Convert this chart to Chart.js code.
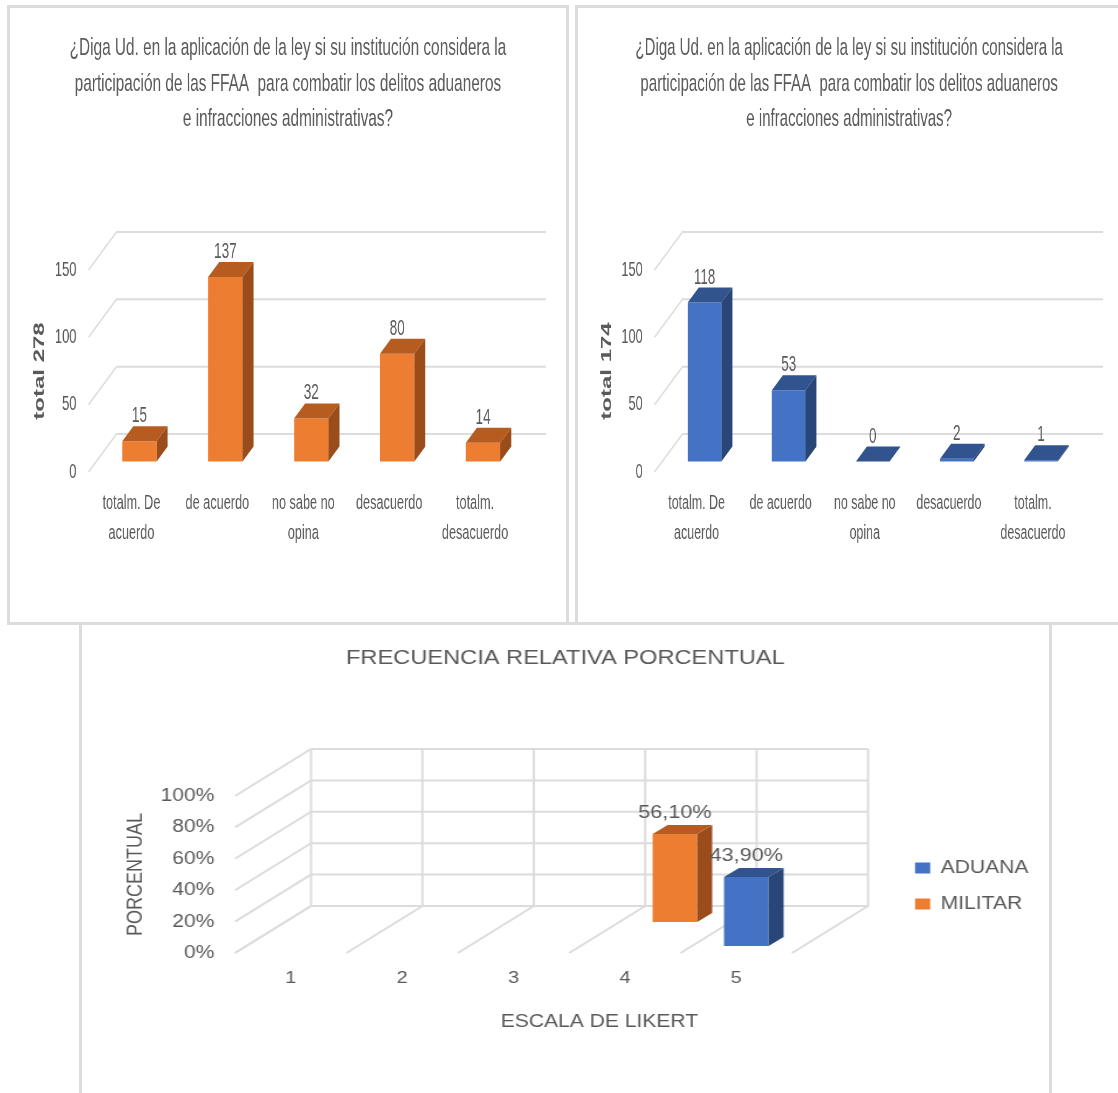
<!DOCTYPE html>
<html>
<head>
<meta charset="utf-8">
<script src="https://cdn.jsdelivr.net/npm/chart.js@4"></script>
<style>
html, body { margin: 0; padding: 0; background: #fff; }
body { position: relative; width: 1118px; height: 1093px; overflow: hidden; }
.panel { position: absolute; box-sizing: border-box; border: 3px solid #dcdcdc; }
canvas { position: absolute; transform-origin: 0 0; }
</style>
</head>
<body>
<div class="panel" style="left:7px;top:5px;width:562px;height:620px"></div>
<div class="panel" style="left:575px;top:5px;width:546px;height:620px"></div>
<div class="panel" style="left:79px;top:622px;width:973px;height:520px"></div>
<canvas id="militar"></canvas>
<canvas id="aduana"></canvas>
<canvas id="frecuencia"></canvas>
<script>
const categories = [['totalm. De', 'acuerdo'], 'de acuerdo', ['no sabe no', 'opina'], 'desacuerdo', ['totalm.', 'desacuerdo']];
const militarValues = [15, 137, 32, 80, 14];
const aduanaValues = [118, 53, 0, 2, 1];
const likert = ['1', '2', '3', '4', '5'];
const likertAduana = [null, null, null, null, 43.9];
const likertMilitar = [null, null, null, 56.1, null];
const surveyTitle = ['¿Diga Ud. en la aplicación de la ley si su institución considera la',
    'participación de las FFAA  para combatir los delitos aduaneros',
    'e infracciones administrativas?'];

const orange = { front: '#ed7d31', top: '#b65c20', side: '#9a4d1a' };
const blue = { front: '#4472c4', top: '#31548f', side: '#2a4578' };
const textColor = '#595959';
const gridColor = '#dcdcdc';
const fontName = '"Liberation Sans", Arial, sans-serif';

// the 3D look: walls and bar faces are worked out from the chart's own scales
const depth3d = {
    id: 'depth3d',
    beforeDatasetsDraw(chart, args, o) {
        const ctx = chart.ctx, a = chart.chartArea, y = chart.scales.y, x = chart.scales.x;
        ctx.save();
        ctx.strokeStyle = gridColor;
        ctx.lineWidth = 2;
        y.ticks.forEach(t => {
            const py = y.getPixelForValue(t.value);
            ctx.beginPath();
            ctx.moveTo(a.left, py);
            ctx.lineTo(a.left + o.wallX, py + o.wallY);
            ctx.lineTo(a.right + o.wallX, py + o.wallY);
            ctx.stroke();
        });
        if (o.columns) {
            const band = x.getPixelForTick(1) - x.getPixelForTick(0);
            for (let i = 0; i <= chart.data.labels.length; i++) {
                const px = a.left + i * band;
                ctx.beginPath();
                ctx.moveTo(px, a.bottom);
                ctx.lineTo(px + o.wallX, a.bottom + o.wallY);
                ctx.lineTo(px + o.wallX, a.top + o.wallY);
                ctx.stroke();
            }
        }
        ctx.restore();
    },
    beforeDatasetDraw(chart, args, o) {
        const s = o.shift[args.index];
        chart.ctx.save();
        chart.ctx.translate(s.x, s.y);
    },
    afterDatasetDraw(chart, args, o) {
        const ctx = chart.ctx, ds = chart.data.datasets[args.index];
        args.meta.data.forEach((el, i) => {
            if (!Number.isFinite(ds.data[i])) return;
            const l = el.x - el.width / 2, r = el.x + el.width / 2;
            ctx.fillStyle = ds.sideColor;
            ctx.beginPath();
            ctx.moveTo(r, el.y);
            ctx.lineTo(r + o.barX, el.y + o.barY);
            ctx.lineTo(r + o.barX, el.base + o.barY);
            ctx.lineTo(r, el.base);
            ctx.closePath();
            ctx.fill();
            ctx.fillStyle = ds.topColor;
            ctx.beginPath();
            ctx.moveTo(l, el.y);
            ctx.lineTo(l + o.barX, el.y + o.barY);
            ctx.lineTo(r + o.barX, el.y + o.barY);
            ctx.lineTo(r, el.y);
            ctx.closePath();
            ctx.fill();
        });
        ctx.restore();
    },
    afterDatasetsDraw(chart, args, o) {
        const ctx = chart.ctx;
        ctx.save();
        ctx.font = o.labelFont;
        ctx.fillStyle = textColor;
        ctx.textAlign = 'center';
        ctx.textBaseline = 'middle';
        chart.data.datasets.forEach((ds, d) => {
            const s = o.shift[d];
            chart.getDatasetMeta(d).data.forEach((el, i) => {
                if (!Number.isFinite(ds.data[i])) return;
                ctx.fillText(o.format(ds.data[i]), el.x + s.x + o.labelX, el.y + s.y + o.labelY);
            });
        });
        ctx.restore();
    },
    afterLayout(chart, args, o) {
        // title centred on the whole panel, not only on the plot
        chart.titleBlock.left = 0;
        chart.titleBlock.right = chart.width;
        if (o.xTitleShift) chart.scales.x.right += o.xTitleShift;
        if (o.legendLeft !== undefined) {
            chart.legend.left = o.legendLeft;
            chart.legend.right = o.legendLeft + 250;
            chart.legend.top = o.legendTop;
            chart.legend.bottom = o.legendTop + 120;
        }
    }
};

function place(id, left, top, width, height, sx) {
    const c = document.getElementById(id);
    c.width = Math.round(width / sx);
    c.height = height;
    c.style.left = left + 'px';
    c.style.top = top + 'px';
    c.style.transform = 'scaleX(' + sx + ')';
    return c;
}

function surveyChart(id, sx, pageLeft, pageWidth, plotLeft, plotRight, values, colors, axisTitle, axisX) {
    const top = 8, height = 615;
    const canvas = place(id, pageLeft, top, pageWidth, height, sx);
    const leftW = (plotLeft - pageLeft) / sx;
    return new Chart(canvas, {
        type: 'bar',
        data: {
            labels: categories,
            datasets: [{
                data: values,
                backgroundColor: colors.front,
                topColor: colors.top,
                sideColor: colors.side,
                barPercentage: 0.4,
                categoryPercentage: 1,
                clip: false
            }]
        },
        options: {
            responsive: false,
            animation: false,
            devicePixelRatio: 1,
            layout: { autoPadding: false, padding: { left: 0, top: 0, bottom: 0, right: canvas.width - (plotRight - pageLeft) / sx } },
            plugins: {
                legend: { display: false },
                tooltip: { enabled: false },
                title: {
                    display: true,
                    text: surveyTitle,
                    color: textColor,
                    font: { family: fontName, size: 24.8, weight: 'normal', lineHeight: 35.5 / 24.8 },
                    padding: { top: 22.5, bottom: 133 }
                },
                depth3d: {
                    wallX: 28 / sx, wallY: -38,
                    barX: 11 / sx, barY: -15,
                    shift: [{ x: 8 / sx, y: -10.5 }],
                    labelX: 0, labelY: -25,
                    labelFont: '22px ' + fontName,
                    format: v => String(v)
                }
            },
            scales: {
                x: {
                    grid: { display: false },
                    border: { display: false },
                    afterFit(s) { s.height = 151; },
                    ticks: {
                        color: textColor,
                        font: { family: fontName, size: 20.5, lineHeight: 30 / 20.5 },
                        padding: 8,
                        maxRotation: 0,
                        autoSkip: false
                    }
                },
                y: {
                    min: 0,
                    max: 150,
                    grid: { display: false },
                    border: { display: false },
                    afterFit(s) { s.width = leftW; },
                    ticks: {
                        stepSize: 50,
                        color: textColor,
                        font: { family: fontName, size: 21 },
                        padding: 7 / sx
                    },
                    title: {
                        display: true,
                        text: axisTitle,
                        color: textColor,
                        font: { family: fontName, size: 24, weight: 'bold', lineHeight: 1.2 },
                        padding: { top: (axisX - pageLeft) / sx - 14.4, bottom: 0 }
                    }
                }
            }
        },
        plugins: [depth3d]
    });
}

surveyChart('militar', 0.62, 8, 560, 88.5, 518, militarValues, orange, 'total 278', 40);
surveyChart('aduana', 0.607, 579, 540, 654.5, 1075, aduanaValues, blue, 'total 174', 607);

// lower chart, stretched a little wider than it is tall
const sxLow = 1.17;
const lowLeft = 81, lowTop = 625;
const lowCanvas = place('frecuencia', lowLeft, lowTop, 969, 468, sxLow);
new Chart(lowCanvas, {
    type: 'bar',
    data: {
        labels: likert,
        datasets: [
            { label: 'ADUANA', data: likertAduana, backgroundColor: blue.front, topColor: blue.top, sideColor: blue.side, barPercentage: 0.4, categoryPercentage: 1, grouped: false, clip: false },
            { label: 'MILITAR', data: likertMilitar, backgroundColor: orange.front, topColor: orange.top, sideColor: orange.side, barPercentage: 0.4, categoryPercentage: 1, grouped: false, clip: false }
        ]
    },
    options: {
        responsive: false,
        animation: false,
        devicePixelRatio: 1,
        layout: { autoPadding: false, padding: { left: 0, top: 0, bottom: 0, right: lowCanvas.width - 100 - (792 - lowLeft) / sxLow } },
        plugins: {
            tooltip: { enabled: false },
            title: {
                display: true,
                text: 'FRECUENCIA RELATIVA PORCENTUAL',
                color: textColor,
                font: { family: fontName, size: 20.2, weight: 'normal', lineHeight: 24 / 20.2 },
                padding: { top: 21, bottom: 126 }
            },
            legend: {
                position: 'right',
                align: 'start',
                maxWidth: 100,
                labels: {
                    color: textColor,
                    font: { family: fontName, size: 18 },
                    boxWidth: 13,
                    boxHeight: 11,
                    padding: 18
                }
            },
            depth3d: {
                wallX: 76 / sxLow, wallY: -47,
                barX: 15 / sxLow, barY: -9,
                columns: true,
                shift: [{ x: 10 / sxLow, y: -7 }, { x: 50 / sxLow, y: -31 }],
                labelX: 0, labelY: -21,
                labelFont: '18.5px ' + fontName,
                format: v => v.toFixed(2).replace('.', ',') + '%',
                xTitleShift: 172 / sxLow,
                legendLeft: (915 - lowLeft) / sxLow - 18,
                legendTop: 859 - lowTop - 18
            }
        },
        scales: {
            x: {
                grid: { display: false },
                border: { display: false },
                afterFit(s) { s.height = 140; },
                ticks: {
                    color: textColor,
                    font: { family: fontName, size: 17 },
                    padding: 7,
                    maxRotation: 0
                },
                title: {
                    display: true,
                    text: 'ESCALA DE LIKERT',
                    color: textColor,
                    font: { family: fontName, size: 18, weight: 'normal', lineHeight: 1.2 },
                    padding: { top: 0, bottom: 60 }
                }
            },
            y: {
                min: 0,
                max: 100,
                grid: { display: false },
                border: { display: false },
                afterFit(s) { s.width = (235 - lowLeft) / sxLow; },
                ticks: {
                    stepSize: 20,
                    color: textColor,
                    font: { family: fontName, size: 18 },
                    padding: 9.5,
                    callback: v => v + '%'
                },
                title: {
                    display: true,
                    text: 'PORCENTUAL',
                    color: textColor,
                    font: { family: fontName, size: 18, weight: 'normal', lineHeight: 1.2 },
                    padding: { top: (136 - lowLeft) / sxLow - 11, bottom: 0 }
                }
            }
        }
    },
    plugins: [depth3d]
});
</script>
</body>
</html>
